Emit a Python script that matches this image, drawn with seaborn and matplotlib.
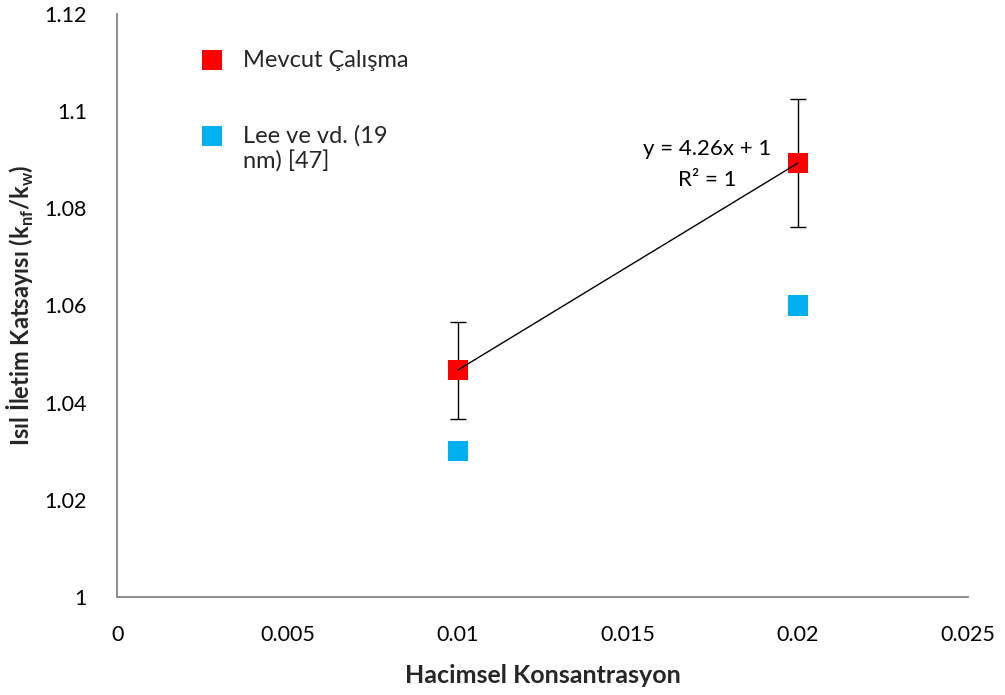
import numpy as np
import pandas as pd
import matplotlib
matplotlib.use("Agg")
import matplotlib.pyplot as plt
import seaborn as sns

# Volume concentration and thermal conductivity ratio
conc = [0.01, 0.02]
present_k = [1.0467, 1.0893]
present_err = [0.0100, 0.0132]
lee_k = [1.03, 1.06]

series_present = "Mevcut Çalışma"
series_lee = "Lee ve vd. (19\nnm) [47]"

x_ticks = [0, 0.005, 0.01, 0.015, 0.02, 0.025]
x_ticklabels = ["0", "0.005", "0.01", "0.015", "0.02", "0.025"]
y_ticks = [1, 1.02, 1.04, 1.06, 1.08, 1.1, 1.12]
y_ticklabels = ["1", "1.02", "1.04", "1.06", "1.08", "1.1", "1.12"]

df = pd.DataFrame({
    "conc": conc + conc,
    "k": present_k + lee_k,
    "series": [series_present] * 2 + [series_lee] * 2,
})

sns.set_theme(style="white")
plt.rcParams["font.family"] = ["Lato", "DejaVu Sans"]

fig = plt.figure(figsize=(10.05, 6.95), dpi=100)
ax = fig.add_axes([0.1169, 0.141, 0.8463, 0.8389])

axis_grey = "#868686"

# Linear trend through the present-study points
slope, intercept = np.polyfit(conc, present_k, 1)
xs = np.array([min(conc), max(conc)])
ax.plot(xs, slope * xs + intercept, color="black", lw=1.0, zorder=4)

# Error bars on the present-study points
ax.errorbar(conc, present_k, yerr=present_err, fmt="none", ecolor="black",
            elinewidth=1.0, capsize=6, capthick=1.0, zorder=2)

sns.scatterplot(data=df, x="conc", y="k", hue="series", marker="s", s=215,
                palette={series_present: "#ff0000", series_lee: "#00b0f0"},
                edgecolor="none", linewidth=0, ax=ax, zorder=3)

ax.text(0.01733, 1.0890, f"y = {slope:.2f}x + {intercept:.0f}\nR² = 1",
        ha="center", va="center", fontsize=16, linespacing=1.7, color="black")

ax.set_xlim(0, 0.025)
ax.set_ylim(1, 1.12)
ax.set_xticks(x_ticks)
ax.set_xticklabels(x_ticklabels)
ax.set_yticks(y_ticks)
ax.set_yticklabels(y_ticklabels)

for side in ["top", "right"]:
    ax.spines[side].set_visible(False)
for side in ["left", "bottom"]:
    ax.spines[side].set_color(axis_grey)
    ax.spines[side].set_linewidth(1.3)

ax.tick_params(axis="both", direction="out", length=6, width=1.3,
               color=axis_grey, labelsize=15.5, labelcolor="black")
ax.tick_params(axis="y", pad=16)
ax.tick_params(axis="x", pad=14)

ax.set_xlabel("Hacimsel Konsantrasyon", fontsize=18, fontweight="bold", labelpad=14)
ax.set_ylabel("Isıl İletim Katsayısı (k$_{\\mathregular{nf}}$/k$_{\\mathregular{w}}$)",
              fontsize=17, fontweight="bold", labelpad=6)

leg = ax.legend(loc="upper left", bbox_to_anchor=(0.097, 0.938), frameon=False,
                fontsize=17, handlelength=1.0, handleheight=1.2,
                handletextpad=0.81, labelspacing=2.17, borderpad=0,
                borderaxespad=0)
for h in leg.legend_handles:
    h.set_markersize(14.5)
# keep each marker level with the first line of its label
for column in leg._legend_handle_box.get_children():
    for row in column.get_children():
        row.align = "top"

fig.savefig("out.png", dpi=100, facecolor="white")
